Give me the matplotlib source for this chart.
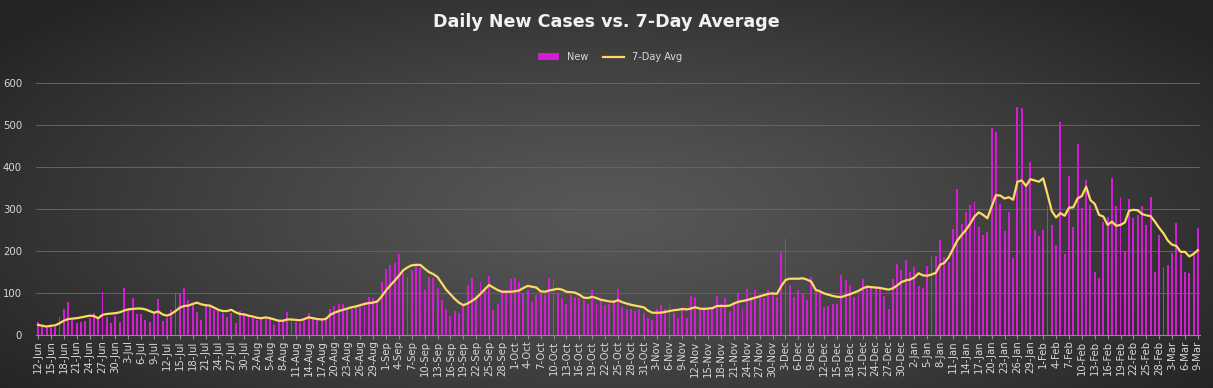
import numpy as np
import pandas as pd
import matplotlib
matplotlib.use('Agg')
import matplotlib.pyplot as plt
from matplotlib.lines import Line2D
from matplotlib.patches import Patch

# daily figures, 12-Jun-2020 .. 9-Mar-2021
dates = pd.date_range('2020-06-12', '2021-03-09', freq='D')

new_cases = [
    32, 20, 16, 20, 20, 44, 63, 79, 36, 29, 32, 34, 40, 53, 44, 103, 44, 28, 46, 32, 111, 60,
    89, 50, 50, 36, 30, 52, 85, 34, 40, 60, 99, 98, 111, 83, 75, 54, 36, 71, 70, 60, 56, 52,
    42, 53, 28, 56, 52, 45, 40, 36, 40, 40, 37, 25, 36, 34, 54, 36, 32, 28, 36, 52, 40, 36, 36,
    44, 62, 69, 74, 74, 61, 61, 71, 67, 79, 91, 87, 83, 127, 157, 167, 171, 193, 147, 137, 155, 167, 160,
    107, 139, 135, 111, 83, 63, 46, 56, 53, 71, 119, 135, 95, 127, 107, 140, 60, 75, 107, 107, 133, 135, 127,
    101, 107, 79, 95, 99, 95, 135, 133, 99, 87, 75, 95, 91, 87, 83, 75, 107, 75, 83, 71, 75, 83, 109,
    67, 61, 61, 56, 61, 53, 40, 36, 63, 71, 63, 73, 52, 40, 60, 40, 93, 91, 60, 67, 60, 67, 92,
    75, 87, 56, 79, 101, 63, 109, 87, 107, 91, 87, 107, 99, 91, 198, 228, 119, 91, 107, 99, 83, 137, 110,
    99, 67, 69, 74, 75, 144, 131, 119, 91, 95, 133, 115, 111, 111, 111, 93, 63, 133, 169, 155, 179, 151,
    163, 117, 113, 164, 188, 187, 226, 185, 175, 252, 347, 264, 294, 310, 317, 258, 238, 246, 492, 484, 312, 248, 294,
    183, 542, 540, 353, 413, 250, 236, 250, 306, 262, 214, 508, 194, 379, 258, 455, 302, 369, 310, 151, 135, 270, 282,
    373, 306, 329, 201, 325, 278, 286, 306, 262, 329, 151, 238, 163, 167, 196, 267, 194, 151, 147, 194, 254,
]

avg_7day = [
    24, 22, 20, 22, 23, 28, 34, 38, 39, 40, 42, 44, 46, 45, 40, 48, 50, 51, 52, 54, 58, 61,
    62, 63, 63, 61, 57, 53, 56, 49, 46, 50, 57, 65, 69, 70, 74, 77, 73, 71, 70, 65, 60, 57, 57,
    60, 54, 50, 49, 46, 44, 41, 40, 42, 40, 37, 34, 34, 37, 37, 36, 35, 38, 42, 40, 38, 37, 38,
    48, 53, 57, 60, 63, 66, 68, 71, 74, 76, 77, 80, 92, 106, 118, 129, 141, 154, 161, 166, 167, 167,
    158, 150, 145, 138, 123, 108, 97, 86, 77, 71, 75, 81, 88, 98, 109, 119, 113, 107, 103, 103, 103, 104, 106,
    112, 117, 115, 113, 104, 103, 106, 108, 110, 108, 103, 102, 101, 96, 89, 88, 91, 88, 84, 82, 80, 79, 83,
    78, 75, 72, 70, 68, 66, 58, 53, 53, 53, 55, 57, 59, 60, 62, 61, 63, 66, 63, 62, 63, 64, 69,
    69, 69, 70, 75, 79, 81, 83, 86, 89, 92, 95, 98, 99, 98, 116, 131, 134, 134, 134, 135, 132, 127,
    108, 104, 99, 96, 93, 91, 90, 94, 97, 101, 105, 111, 115, 114, 113, 112, 110, 108, 111, 118, 126, 130, 132,
    137, 147, 142, 141, 144, 148, 167, 172, 185, 205, 225, 238, 250, 265, 282, 292, 286, 278, 306, 333, 332, 325, 328,
    322, 365, 368, 355, 371, 368, 365, 373, 335, 295, 280, 290, 284, 303, 304, 325, 331, 353, 321, 312, 286, 282, 262,
    270, 260, 262, 268, 296, 298, 297, 288, 285, 283, 270, 255, 242, 225, 215, 212, 198, 198, 187, 193, 202,
]

tick_labels = [f"{d.day}-{d.strftime('%b')}" for d in dates]

W, H = 1213, 388
fig = plt.figure(figsize=(W / 100, H / 100), dpi=100)

# dark radial background like the Excel chart style
bg = fig.add_axes([0, 0, 1, 1], zorder=-10)
yy, xx = np.mgrid[0:H, 0:W]
r = np.sqrt(((xx - W * 0.5) / (W * 0.62)) ** 2 + ((yy - H * 0.55) / (H * 0.75)) ** 2)
r = np.clip(r, 0, 1)
center, edge = 0.345, 0.145
shade = center + (edge - center) * r ** 1.2
bg.imshow(np.dstack([shade] * 3), aspect='auto', extent=(0, 1, 0, 1))
bg.axis('off')

left, right = 35.9 / W, 1200 / W
bottom, top = 1 - 335 / H, 1 - 83 / H
ax = fig.add_axes([left, bottom, right - left, top - bottom])
ax.set_facecolor('none')

bar_col = '#d41cd4'
x = np.arange(len(dates))
ax.bar(x, new_cases, width=0.45, color=bar_col, zorder=2)
ax.plot(x, avg_7day, color='#ffd966', lw=1.6, zorder=3)

ax.set_xlim(-0.5, len(dates) - 0.5)
ax.set_ylim(0, 600)
ax.set_yticks(range(0, 601, 100))
ax.grid(axis='y', color='#646464', lw=0.7, zorder=0)

tick_pos = x[::3]
ax.set_xticks(tick_pos)
ax.set_xticklabels([tick_labels[i] for i in tick_pos], rotation=90, fontsize=7.3, color='#d9d9d9')
ax.tick_params(axis='x', length=3, color='#8c8c8c', pad=1)
ax.tick_params(axis='y', length=0, labelsize=7.3, labelcolor='#d9d9d9', pad=10)

for s in ['top', 'right', 'left']:
    ax.spines[s].set_visible(False)
ax.spines['bottom'].set_color('#8c8c8c')

fig.text(0.5, 1 - 22 / H, 'Daily New Cases vs. 7-Day Average', ha='center', va='center',
         color='#f2f2f2', fontsize=12.6, fontweight='bold')

handles = [Patch(facecolor=bar_col, label='New'),
           Line2D([0], [0], color='#ffd966', lw=1.6, label='7-Day Avg')]
fig.legend(handles=handles, loc='center', bbox_to_anchor=(0.503, 1 - 57 / H), ncol=2,
           frameon=False, fontsize=7, labelcolor='#d9d9d9', handlelength=2.2,
           handleheight=0.7, columnspacing=1.5)

fig.savefig('out.png', dpi=100)
